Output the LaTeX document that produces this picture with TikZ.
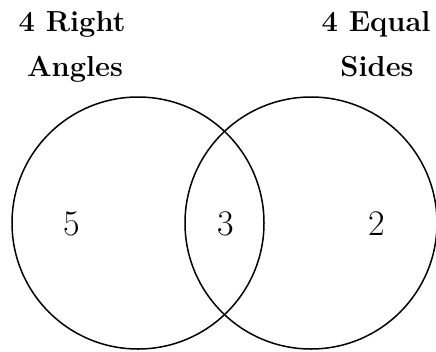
\documentclass[tikz,border=0pt]{standalone}
\usepackage{fontspec}
\begin{document}
\begin{tikzpicture}[x=1pt,y=-1pt,
  circ/.style={draw,line width=1.5pt},
  num/.style={font=\fontsize{36}{40}\selectfont,inner sep=0pt},
  lbl/.style={font=\fontsize{29}{32}\selectfont\bfseries,inner sep=0pt,anchor=base}]
\useasboundingbox (0,0) rectangle (436,351);
\draw[circ] (138,223) circle (126);
\draw[circ] (311,223) circle (126);
\node[num] (five) at (72,224) {5};
\node[num] (three) at (226,224) {3};
\node[num] (two) at (377,224) {2};
\node[lbl] (r1) at (72,31) {4 Right};
\node[lbl] (r2) at (75,76) {Angles};
\node[lbl] (e1) at (376,31) {4 Equal};
\node[lbl] (e2) at (377,76) {Sides};
\end{tikzpicture}
\end{document}
